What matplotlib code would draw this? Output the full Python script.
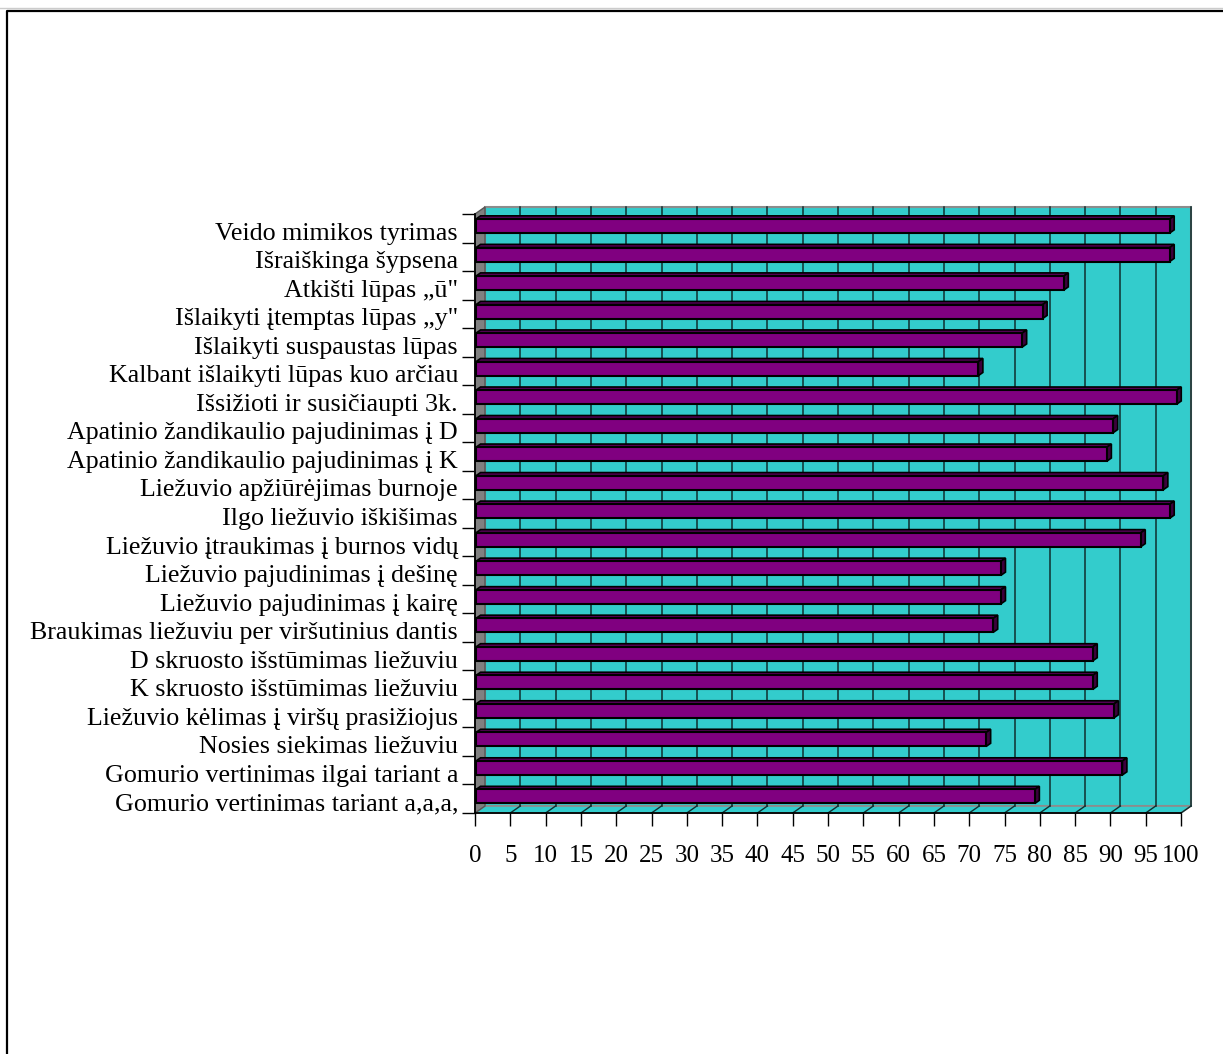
import matplotlib
matplotlib.use("Agg")
import matplotlib.pyplot as plt
from matplotlib.patches import Polygon
from matplotlib.lines import Line2D
from matplotlib.transforms import ScaledTranslation

categories = [
    "Veido mimikos tyrimas",
    "Išraiškinga šypsena",
    "Atkišti lūpas „ū\"",
    "Išlaikyti įtemptas lūpas „y\"",
    "Išlaikyti suspaustas lūpas",
    "Kalbant išlaikyti lūpas kuo arčiau",
    "Išsižioti ir susičiaupti 3k.",
    "Apatinio žandikaulio pajudinimas į D",
    "Apatinio žandikaulio pajudinimas į K",
    "Liežuvio apžiūrėjimas burnoje",
    "Ilgo liežuvio iškišimas",
    "Liežuvio įtraukimas į burnos vidų",
    "Liežuvio pajudinimas į dešinę",
    "Liežuvio pajudinimas į kairę",
    "Braukimas liežuviu per viršutinius dantis",
    "D skruosto išstūmimas liežuviu",
    "K skruosto išstūmimas liežuviu",
    "Liežuvio kėlimas į viršų prasižiojus",
    "Nosies siekimas liežuviu",
    "Gomurio vertinimas ilgai tariant a",
    "Gomurio vertinimas tariant a,a,a,",
]
values = [98.4, 98.4, 83.4, 80.4, 77.5, 71.3, 99.4, 90.4, 89.5, 97.5, 98.4,
          94.3, 74.5, 74.5, 73.4, 87.5, 87.5, 90.5, 72.4, 91.7, 79.3]
x_ticks = list(range(0, 101, 5))

W, H, DPI = 1223, 1054, 100
plt.rcParams["font.family"] = ["Liberation Serif", "DejaVu Serif"]

fig = plt.figure(figsize=(W / DPI, H / DPI), dpi=DPI)
fig.patch.set_facecolor("white")

# front plane of the plot in pixels
L, R, T, B = 475, 1181, 214, 813
ax = fig.add_axes([L / W, 1 - B / H, (R - L) / W, (B - T) / H])
n = len(categories)
ax.set_xlim(0, 100)
ax.set_ylim(n, 0)
for s in ax.spines.values():
    s.set_visible(False)
ax.patch.set_visible(False)

px_x = (R - L) / 100.0
px_y = (B - T) / n
DEPTH_X, DEPTH_Y = 10.0, 7.0  # wall depth in pixels


def P(v, c, d):
    """value, category position, depth fraction -> data coords"""
    return (v + d * DEPTH_X / px_x, c - d * DEPTH_Y / px_y)


cyan = "#33CCCC"
purple = "#800080"
grid_c = "#0f2f2f"

# back wall
back = Polygon([P(0, 0, 1), P(100, 0, 1), P(100, n, 1), P(0, n, 1)],
               closed=True, facecolor=cyan, edgecolor="#8c8c8c", lw=1.5,
               clip_on=False, zorder=1)
ax.add_patch(back)
# floor
floor = Polygon([P(0, n, 0), P(100, n, 0), P(100, n, 1), P(0, n, 1)],
                closed=True, facecolor=cyan, edgecolor="#8c8c8c", lw=1.2,
                clip_on=False, zorder=1)
ax.add_patch(floor)
# grid lines on back wall and floor
for v in x_ticks[1:]:
    x0, y0 = P(v, 0, 1)
    x1, y1 = P(v, n, 1)
    ax.add_line(Line2D([x0, x1], [y0, y1], color=grid_c, lw=1.1, zorder=2,
                       clip_on=False))
    fx0, fy0 = P(v, n, 0)
    ax.add_line(Line2D([fx0, x1], [fy0, y1], color=grid_c, lw=1.0, zorder=2,
                       clip_on=False))
# left side wall
side = Polygon([P(0, 0, 0), P(0, n, 0), P(0, n, 1), P(0, 0, 1)],
               closed=True, facecolor="#808080", edgecolor="#555555", lw=1.0,
               clip_on=False, zorder=3)
ax.add_patch(side)

# bars
BAR_D = 0.45
for i, v in enumerate(values):
    top = i + 5.0 / px_y
    bot = i + 19.0 / px_y
    x0 = 0.15
    ax.add_patch(Polygon([P(x0, top, 0), P(v, top, 0), P(v, top, BAR_D),
                          P(x0, top, BAR_D)], closed=True,
                         facecolor="#560056", edgecolor="black", lw=1.2,
                         zorder=5, clip_on=False))
    ax.add_patch(Polygon([P(v, top, 0), P(v, bot, 0), P(v, bot, BAR_D),
                          P(v, top, BAR_D)], closed=True,
                         facecolor="#3c003c", edgecolor="black", lw=1.2,
                         zorder=5, clip_on=False))
    ax.barh(0.5 * (top + bot), v - x0, left=x0,
            height=bot - top, color=purple, edgecolor="black", lw=1.5,
            zorder=6)

# axis lines
ax.add_line(Line2D([0, 100], [n, n], color="black", lw=1.3, zorder=7,
                   clip_on=False))
ax.add_line(Line2D([0, 0], [0, n], color="black", lw=1.3, zorder=7,
                    clip_on=False))

tick_len = 13 * 72 / DPI
ax.set_xticks(x_ticks)
ax.set_xticklabels([str(t) for t in x_ticks], fontsize=18)
ax.tick_params(axis="x", length=tick_len, width=1.0, pad=14, color="black")

ax.set_yticks([i + 0.5 for i in range(n)])
ax.set_yticklabels(categories, fontsize=18.7)
ax.set_yticks(list(range(n + 1)), minor=True)
ax.tick_params(axis="y", which="major", length=0, pad=12.2)
ax.tick_params(axis="y", which="minor", length=tick_len, width=1.0,
               color="black")
shift = ScaledTranslation(0, -3 / DPI, fig.dpi_scale_trans)
for lbl in ax.get_yticklabels():
    lbl.set_verticalalignment("center_baseline")
    lbl.set_transform(lbl.get_transform() + shift)

# outer frame
fig.add_artist(Line2D([0, 1], [1 - 8 / H, 1 - 8 / H], color="#cccccc",
                      lw=1.0, transform=fig.transFigure))
fig.add_artist(Line2D([7 / W, 7 / W, 1.0], [0, 1 - 10.5 / H, 1 - 10.5 / H],
                      color="black", lw=1.6, transform=fig.transFigure))

fig.savefig("out.png", dpi=DPI)
